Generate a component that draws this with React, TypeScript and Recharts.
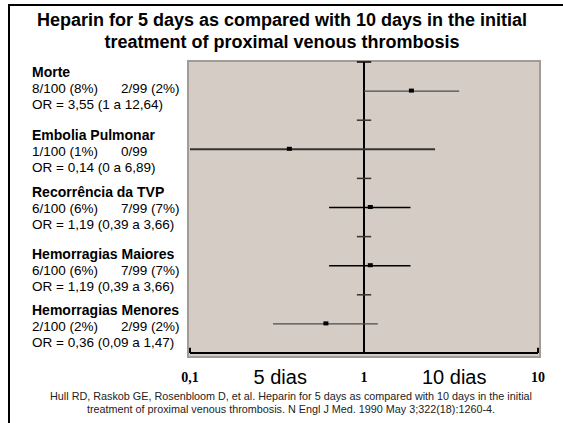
import {
  ScatterChart,
  Scatter,
  XAxis,
  YAxis,
  ReferenceLine,
} from "recharts";

const outcomes = [
  "Morte",
  "Embolia Pulmonar",
  "Recorrência da TVP",
  "Hemorragias Maiores",
  "Hemorragias Menores",
];
const fiveDays = ["8/100 (8%)", "1/100 (1%)", "6/100 (6%)", "6/100 (6%)", "2/100 (2%)"];
const tenDays = ["2/99 (2%)", "0/99", "7/99 (7%)", "7/99 (7%)", "2/99 (2%)"];
const orText = [
  "OR = 3,55 (1 a 12,64)",
  "OR = 0,14 (0 a 6,89)",
  "OR = 1,19 (0,39 a 3,66)",
  "OR = 1,19 (0,39 a 3,66)",
  "OR = 0,36 (0,09 a 1,47)",
];
// as drawn on the plot (log scale)
const orPoint = [1.86, 0.37, 1.08, 1.08, 0.6];
const ciLow = [1.0, 0.1, 0.63, 0.63, 0.3];
const ciHigh = [3.52, 2.56, 1.85, 1.85, 1.2];

const tickValues = [0.1, 0.33, 1, 3.3, 10];
const tickLabels = ["0,1", "5 dias", "1", "10 dias", "10"];

const ciStroke = ["#4a4a4a", "#333", "#000", "#000", "#4a4a4a"];
const ciWidth = [1.2, 2, 1.5, 1.5, 1.2];

const textYs = [72, 135, 192, 254, 310];

function AxisTick(props: any) {
  const { x, payload } = props;
  const i = tickValues.indexOf(payload.value);
  const label = tickLabels[i] ?? "";
  const isWord = label.includes("dias");
  return (
    <text
      x={x}
      y={377}
      textAnchor="middle"
      dominantBaseline="central"
      fontFamily={isWord ? "'Liberation Sans', Arial, sans-serif" : "'Liberation Serif', 'Times New Roman', serif"}
      fontWeight={isWord ? 400 : 700}
      fontSize={isWord ? 20 : 14}
      fill="#000"
    >
      {label}
    </text>
  );
}

function Square(props: any) {
  const { cx, cy } = props;
  return <rect x={cx - 2} y={cy - 2.5} width={5} height={4} fill="#000" />;
}

export default function App() {
  const rows = outcomes.map((name, i) => ({ name, x: orPoint[i], y: i + 0.5 }));

  return (
    <div
      style={{
        position: "absolute",
        left: 0,
        top: 0,
        width: 563,
        height: 423,
        background: "#fff",
        fontFamily: "'Liberation Sans', Arial, sans-serif",
        color: "#000",
        overflow: "hidden",
      }}
    >
      {/* frame lines */}
      <div
        style={{
          position: "absolute",
          left: 8,
          top: 4,
          width: 560,
          height: 430,
          borderLeft: "2px solid #000",
          borderTop: "2px solid #000",
        }}
      />
      <div
        style={{
          position: "absolute",
          left: 0,
          top: 9,
          width: 564,
          textAlign: "center",
          fontWeight: 700,
          fontSize: 18,
          lineHeight: "22px",
        }}
      >
        Heparin for 5 days as compared with 10 days in the initial
        <br />
        treatment of proximal venous thrombosis
      </div>

      {/* plot background */}
      <div
        style={{
          position: "absolute",
          left: 187,
          top: 60,
          width: 354,
          height: 298,
          background: "#d5ccc6",
          border: "2px solid #a29b96",
          boxSizing: "border-box",
        }}
      />

      {outcomes.map((name, i) => (
        <div key={name}>
          <div
            style={{
              position: "absolute",
              left: 32,
              top: textYs[i] - 9,
              fontSize: 14,
              fontWeight: 700,
              lineHeight: "18px",
              whiteSpace: "nowrap",
            }}
          >
            {name}
          </div>
          <div
            style={{
              position: "absolute",
              left: 32,
              top: textYs[i] + 8,
              fontSize: 13.5,
              lineHeight: "17px",
              whiteSpace: "nowrap",
            }}
          >
            {fiveDays[i]}
          </div>
          <div
            style={{
              position: "absolute",
              left: 121,
              top: textYs[i] + 8,
              fontSize: 13.5,
              lineHeight: "17px",
              whiteSpace: "nowrap",
            }}
          >
            {tenDays[i]}
          </div>
          <div
            style={{
              position: "absolute",
              left: 32,
              top: textYs[i] + 24,
              fontSize: 13.5,
              lineHeight: "17px",
              whiteSpace: "nowrap",
            }}
          >
            {orText[i]}
          </div>
        </div>
      ))}

      <div style={{ position: "absolute", left: 0, top: 0 }}>
        <ScatterChart
          width={563}
          height={423}
          margin={{ top: 62, right: 25, bottom: 0, left: 190 }}
        >
          <XAxis
            type="number"
            dataKey="x"
            scale="log"
            domain={[0.1, 10]}
            allowDataOverflow
            ticks={tickValues}
            interval={0}
            height={70}
            axisLine={{ stroke: "#000", strokeWidth: 2 }}
            tickLine={false}
            tick={<AxisTick />}
          />
          <YAxis type="number" dataKey="y" domain={[0, 5]} reversed hide />

          <ReferenceLine x={1} stroke="#000" strokeWidth={2} />
          {[0, 1, 2, 3, 4].map((b) => (
            <ReferenceLine
              key={"b" + b}
              segment={[
                { x: 0.91, y: b },
                { x: 1.1, y: b },
              ]}
              stroke={b === 0 ? "#000" : "#333"}
              strokeWidth={1.5}
            />
          ))}
          <ReferenceLine
            segment={[
              { x: 0.1, y: 5 },
              { x: 0.1, y: 4.91 },
            ]}
            stroke="#000"
            strokeWidth={2}
          />
          <ReferenceLine
            segment={[
              { x: 10, y: 5 },
              { x: 10, y: 4.91 },
            ]}
            stroke="#000"
            strokeWidth={2}
          />
          {outcomes.map((name, i) => (
            <ReferenceLine
              key={name}
              segment={[
                { x: ciLow[i], y: i + 0.5 },
                { x: ciHigh[i], y: i + 0.5 },
              ]}
              stroke={ciStroke[i]}
              strokeWidth={ciWidth[i]}
            />
          ))}
          <Scatter data={rows} shape={<Square />} isAnimationActive={false} />
        </ScatterChart>
      </div>

      <div
        style={{
          position: "absolute",
          left: 0,
          top: 390,
          width: 582,
          textAlign: "center",
          fontSize: 10.8,
          lineHeight: "13px",
          color: "#222",
          whiteSpace: "nowrap",
        }}
      >
        Hull RD, Raskob GE, Rosenbloom D, et al. Heparin for 5 days as compared with 10 days in the initial
        <br />
        treatment of proximal venous thrombosis. N Engl J Med. 1990 May 3;322(18):1260-4.
      </div>
    </div>
  );
}
